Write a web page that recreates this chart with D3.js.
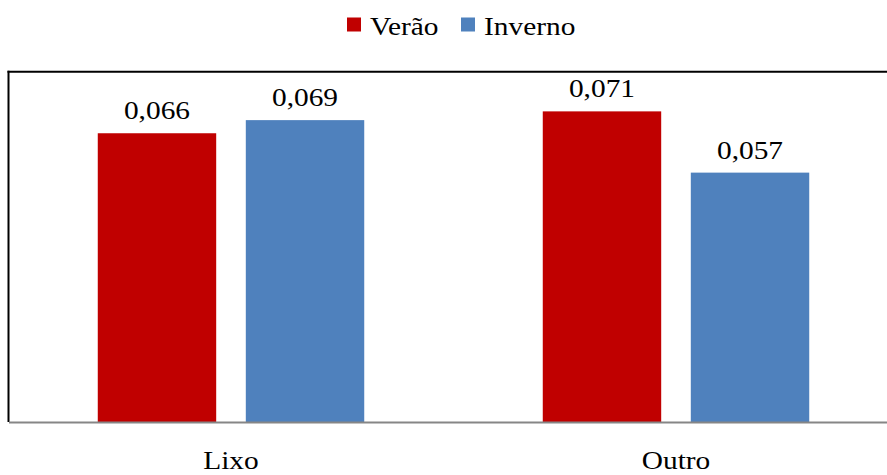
<!DOCTYPE html>
<html>
<head>
<meta charset="utf-8">
<script src="https://cdn.jsdelivr.net/npm/d3@7"></script>
<style>
  html, body { margin: 0; padding: 0; background: #fff; }
  svg { display: block; }
  text { font-family: "Liberation Serif", "Times New Roman", serif; fill: #000; }
</style>
</head>
<body>
<svg id="chart" width="887" height="475"></svg>
<script>
// Data
const categories = ["Lixo", "Outro"];
const seriesNames = ["Verão", "Inverno"];
const verao = [0.066, 0.071];
const inverno = [0.069, 0.057];
const seriesColors = ["#C00000", "#4F81BD"];
const yDomain = [0, 0.08];

const seriesValues = [verao, inverno];
const fmt = v => d3.format(".3f")(v).replace(".", ",");

const svg = d3.select("#chart");
const W = 887, H = 475;

// Plot area (right edge runs past the visible canvas)
const plot = { left: 8.5, right: 898.5, top: 72, bottom: 422 };

const x0 = d3.scaleBand().domain(categories).range([plot.left, plot.right]).padding(0);
const x1 = d3.scaleBand().domain(seriesNames).range([0, x0.bandwidth()])
  .paddingInner(0.2).paddingOuter(0.603);
const y = d3.scaleLinear().domain(yDomain).range([plot.bottom, plot.top]);

const sx = 1.13; // horizontal stretch applied to text
const fontSize = 26;

function label(g, tx, ty, str, size) {
  g.append("text")
    .attr("transform", `translate(${tx},${ty}) scale(${sx},1)`)
    .attr("text-anchor", "middle")
    .style("font-size", size + "px")
    .text(str);
}

// Bars
const groups = svg.append("g").selectAll("g")
  .data(categories)
  .join("g")
  .attr("transform", d => `translate(${x0(d)},0)`);

groups.each(function(cat, ci) {
  const g = d3.select(this);
  seriesNames.forEach((s, si) => {
    const v = seriesValues[si][ci];
    g.append("rect")
      .attr("x", x1(s))
      .attr("width", x1.bandwidth())
      .attr("y", y(v))
      .attr("height", y(0) - y(v))
      .attr("fill", seriesColors[si]);
    label(g, x1(s) + x1.bandwidth() / 2, y(v) - 14, fmt(v), fontSize);
  });
});

// Frame: top and left borders in black, baseline in grey
svg.append("line")
  .attr("x1", plot.left - 1).attr("x2", W)
  .attr("y1", plot.top - 0.3).attr("y2", plot.top - 0.3)
  .attr("stroke", "#000").attr("stroke-width", 2);
svg.append("line")
  .attr("x1", plot.left).attr("x2", plot.left)
  .attr("y1", plot.top - 1.3).attr("y2", plot.bottom)
  .attr("stroke", "#000").attr("stroke-width", 2);

const xAxis = svg.append("g")
  .attr("transform", `translate(0,${plot.bottom})`)
  .call(d3.axisBottom(x0).tickSize(0).tickFormat(""));
xAxis.select(".domain").attr("stroke", "#868686").attr("stroke-width", 2);

// Category labels
categories.forEach(c => {
  label(svg, x0(c) + x0.bandwidth() / 2, 469, c, fontSize);
});

// Legend
const legend = svg.append("g");
const legendItems = [
  { name: seriesNames[0], color: seriesColors[0], x: 347 },
  { name: seriesNames[1], color: seriesColors[1], x: 461 }
];
legendItems.forEach(it => {
  legend.append("rect")
    .attr("x", it.x).attr("y", 17.5)
    .attr("width", 14).attr("height", 14)
    .attr("fill", it.color);
  legend.append("text")
    .attr("transform", `translate(${it.x + 23},35) scale(${sx},1)`)
    .style("font-size", fontSize + "px")
    .text(it.name);
});
</script>
</body>
</html>
